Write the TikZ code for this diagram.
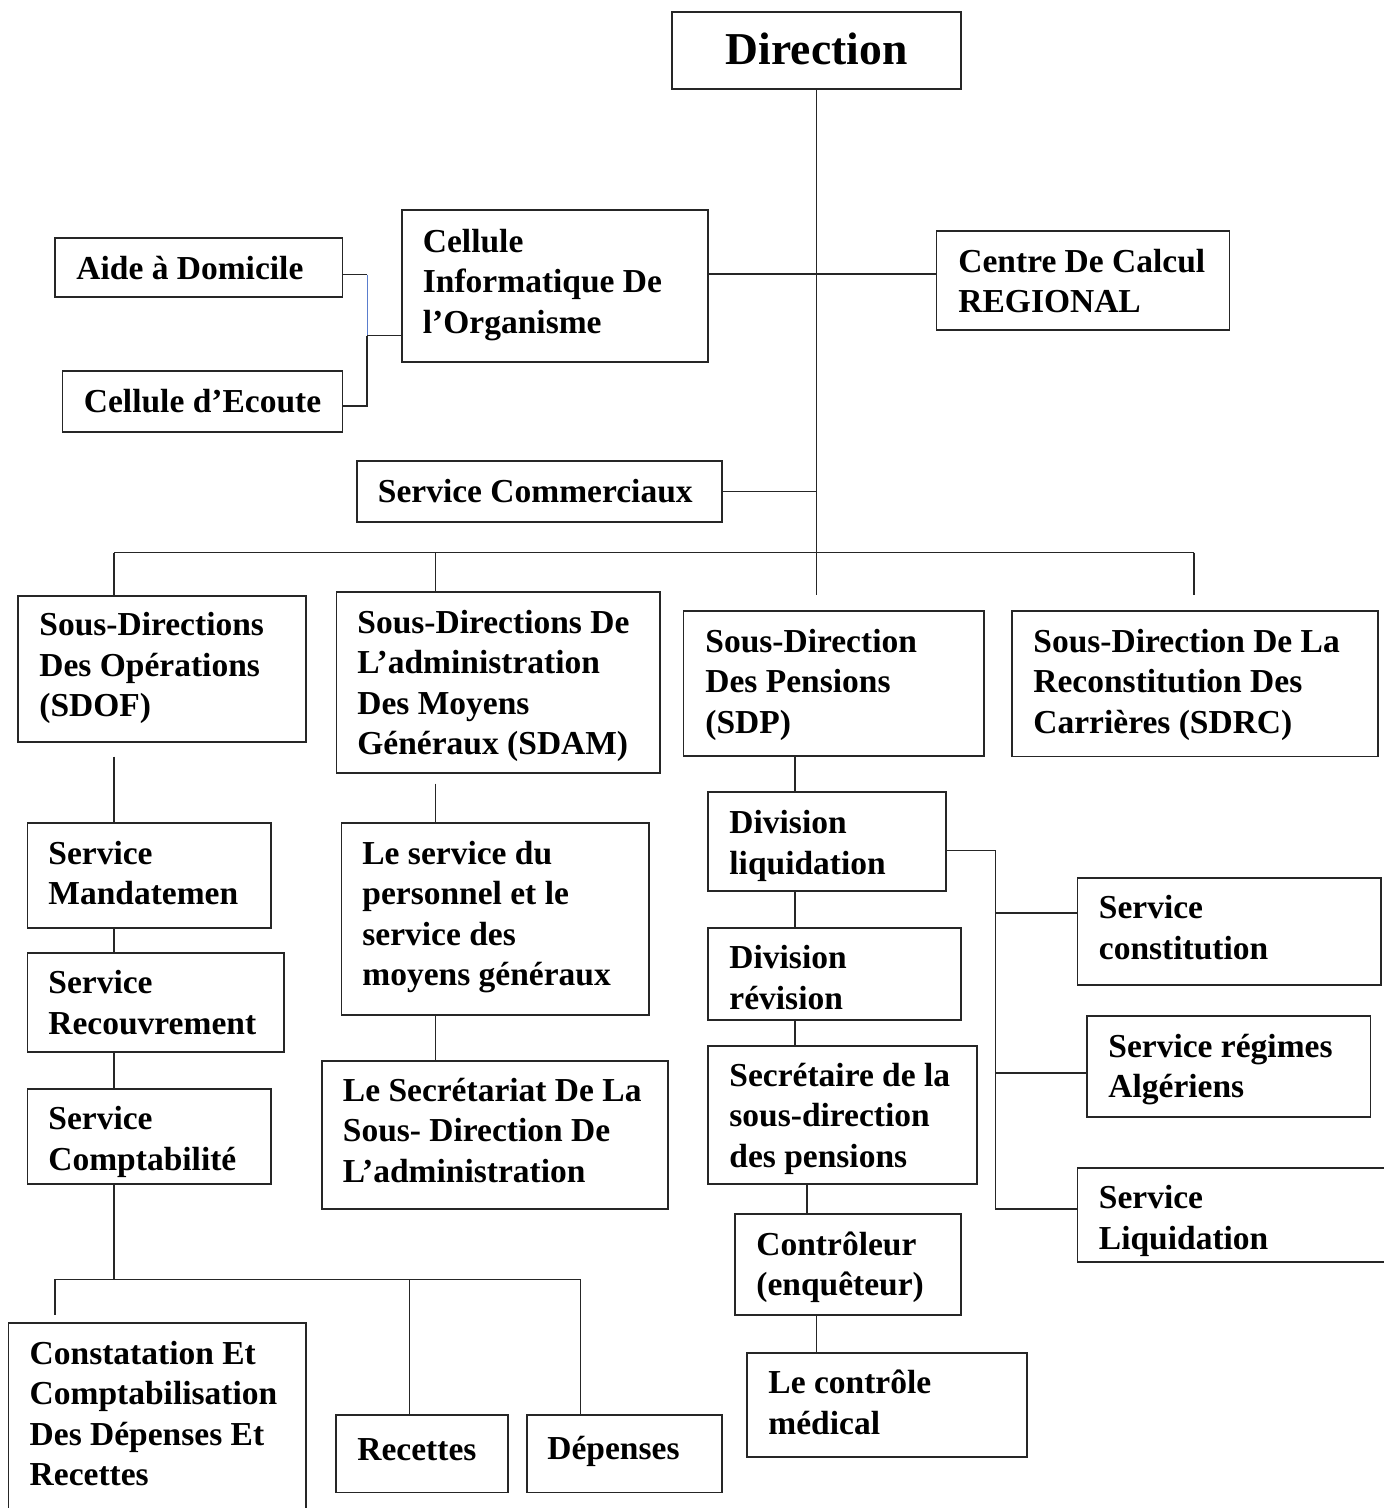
\documentclass[tikz,border=0pt]{standalone}
\usepackage{fontspec}
\setmainfont{Liberation Serif}
\usetikzlibrary{calc}
\tikzset{
  boxst/.style={draw=black!85, line width=0.8pt, inner sep=0pt, fill=none, rectangle},
  txtst/.style={inner sep=0pt, align=left, font={\fontsize{16.75}{20.25}\selectfont\bfseries}},
  bigtxt/.style={inner sep=0pt, align=left, font={\fontsize{22.8}{27.4}\selectfont\bfseries}},
  conn/.style={draw=black!85, line width=0.6pt},
  thinblue/.style={draw={rgb,255:red,90;green,125;blue,205}, line width=0.4pt}
}
% name, x1,y1,x2,y2, text x, first baseline, text
\newcommand\obox[8]{%
  \node[boxst, minimum width={(#4-#2)*0.5pt}, minimum height={(#5-#3)*0.5pt}] (#1) at ({(#2+#4)/2},{(#3+#5)/2}) {};
  \node[txtst, anchor=north west] (#1t) at (#6,{#7-28.35}) {\strut #8};
}
\begin{document}
\begin{tikzpicture}[x=0.5pt,y=-0.5pt]
\useasboundingbox (0,0) rectangle (1384,1508);
\clip (0,0) rectangle (1384,1508);
\fill[white] (0,0) rectangle (1384,1508);

% Direction
\node[boxst, minimum width={289*0.5pt}, minimum height={77*0.5pt}] (dir) at (816.5,50.5) {};
\node[bigtxt, anchor=north west] (dirt) at (725.5,25.6) {\strut Direction};

\obox{aide}{55}{238}{342.5}{297}{76}{279}{Aide à Domicile}
\obox{ecoute}{62.5}{371}{342.5}{432}{83.5}{411.7}{Cellule d’Ecoute}
\obox{cim}{402}{210}{708}{362}{422.5}{252}{Cellule\\Informatique De\\l’Organisme}
\obox{ccr}{936.5}{231}{1229.5}{330}{958}{272}{Centre De Calcul\\REGIONAL}
\obox{sc}{357}{461}{722}{522}{377.5}{502}{Service Commerciaux}

\obox{sdof}{18}{596}{306}{742}{39}{635.5}{Sous-Directions\\Des Opérations\\(SDOF)}
\obox{sdam}{336.6}{592}{660}{773}{357}{633}{Sous-Directions De\\L’administration\\Des Moyens\\Généraux (SDAM)}
\obox{sdp}{683.5}{611}{984}{756}{705}{652}{Sous-Direction\\Des Pensions\\(SDP)}
\obox{sdrc}{1012}{611}{1378}{756.5}{1033}{652}{Sous-Direction De La\\Reconstitution Des\\Carrières (SDRC)}

\obox{mand}{27.3}{823}{270.7}{927.7}{48}{864}{Service\\Mandatemen}
\obox{recv}{27.3}{953}{284}{1052}{48}{993.5}{Service\\Recouvrement}
\obox{compt}{27.3}{1089}{270.7}{1184}{48}{1129.5}{Service\\Comptabilité}

\obox{pers}{341.5}{823}{648.8}{1015}{362}{864}{Le service du\\personnel et le\\service des\\moyens généraux}
\obox{secad}{322}{1060.7}{668}{1209}{342.5}{1100.7}{Le Secrétariat De La\\Sous- Direction De\\L’administration}

\obox{divliq}{707.8}{791.7}{946}{890.7}{729}{833.3}{Division\\liquidation}
\obox{divrev}{707.8}{927.7}{961}{1020}{729}{968.3}{Division\\révision}
\obox{secp}{707.8}{1046}{976.8}{1183.7}{729}{1086}{Secrétaire de la\\sous-direction\\des pensions}
\obox{ctrl}{735}{1214}{961}{1315}{756}{1255}{Contrôleur\\(enquêteur)}
\obox{med}{747}{1353}{1026.7}{1457}{768}{1393.3}{Le contrôle\\médical}

\obox{scons}{1077.4}{878}{1381}{985}{1098.5}{918.3}{Service\\constitution}
\obox{sreg}{1087}{1015.7}{1370.6}{1116.7}{1108}{1056.7}{Service régimes\\Algériens}
\obox{sliq}{1077.4}{1167.7}{1400}{1262}{1098.5}{1208.3}{Service\\Liquidation}

\obox{const}{8.3}{1322.7}{306}{1530}{29.3}{1364}{Constatation Et\\Comptabilisation\\Des Dépenses Et\\Recettes}
\obox{rec}{336}{1415}{507.8}{1492.5}{357}{1460}{Recettes}
\obox{dep}{526.7}{1415}{722}{1492.5}{547}{1459.5}{Dépenses}

% ---- connectors ----
\coordinate (trunkend) at (816.5,595);
\draw[conn] (dir.south) -- (trunkend);
\draw[conn] (cim.east |- 0,274) -- (ccr.west |- 0,274);
\draw[conn] (sc.east) -- (sc.east -| dir.south);

% left bracket (Aide / Ecoute)
\coordinate (brk) at (367,274.7);
\coordinate (brkM) at (367,335.7);
\coordinate (brkB) at (367,406);
\draw[conn] (aide.east |- brk) -- (brk);
\draw[thinblue] (brk) -- (brkM);
\draw[conn] (brkM) -- (brkB) -- (ecoute.east |- brkB);
\draw[conn] (cim.west |- brkM) -- (brkM);

% main bus
\coordinate (busL) at (114,552.7);
\coordinate (busM) at (435.5,552.7);
\coordinate (busR) at (1194,552.7);
\coordinate (busRend) at (1194,595);
\draw[conn] (busL) -- (busR);
\draw[conn] (busL) -- (busL |- sdof.north);
\draw[conn] (busM) -- (busM |- sdam.north);
\draw[conn] (busR) -- (busRend);

% SDOF column
\coordinate (sdofA) at (114,756.5);
\draw[conn] (sdofA) -- (sdofA |- mand.north);
\draw[conn] (mand.south -| sdofA) -- (recv.north -| sdofA);
\draw[conn] (recv.south -| sdofA) -- (compt.north -| sdofA);
\coordinate (b2L) at (55,1279.3);
\coordinate (b2M) at (409.6,1279.3);
\coordinate (b2R) at (580.5,1279.3);
\coordinate (b2Lend) at (55,1315);
\draw[conn] (compt.south -| sdofA) -- (sdofA |- b2L);
\draw[conn] (b2L) -- (b2R);
\draw[conn] (b2L) -- (b2Lend);
\draw[conn] (b2M) -- (b2M |- rec.north);
\draw[conn] (b2R) -- (b2R |- dep.north);

% SDAM column
\coordinate (sdamA) at (435.7,783.7);
\draw[conn] (sdamA) -- (sdamA |- pers.north);
\draw[conn] (pers.south -| sdamA) -- (secad.north -| sdamA);

% SDP column
\coordinate (sdpX) at (795,0);
\draw[conn] (sdp.south -| sdpX) -- (divliq.north -| sdpX);
\draw[conn] (divliq.south -| sdpX) -- (divrev.north -| sdpX);
\draw[conn] (divrev.south -| sdpX) -- (secp.north -| sdpX);
\coordinate (secX) at (807,0);
\draw[conn] (secp.south -| secX) -- (ctrl.north -| secX);
\coordinate (ctrlX) at (816.7,0);
\draw[conn] (ctrl.south -| ctrlX) -- (med.north -| ctrlX);

% right bracket
\coordinate (rbX) at (995.7,0);
\draw[conn] (divliq.east |- 0,850.7) -- (rbX |- 0,850.7) -- (rbX |- 0,1209) -- (sliq.west |- 0,1209);
\draw[conn] (rbX |- 0,913) -- (scons.west |- 0,913);
\draw[conn] (rbX |- 0,1073) -- (sreg.west |- 0,1073);
\end{tikzpicture}
\end{document}
